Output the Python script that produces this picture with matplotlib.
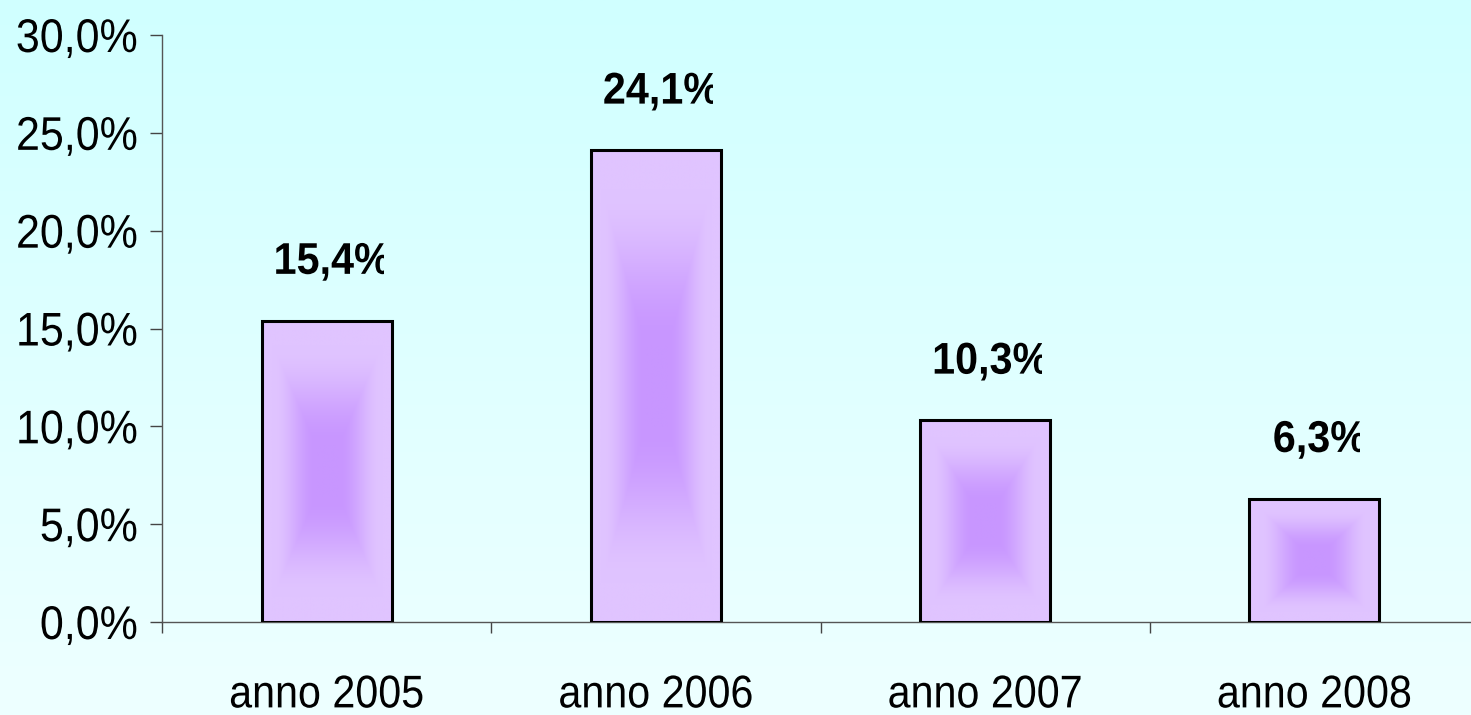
import numpy as np
import matplotlib
matplotlib.use("Agg")
import matplotlib.pyplot as plt
from matplotlib.ticker import FuncFormatter
from matplotlib.patheffects import AbstractPathEffect
from matplotlib.transforms import Affine2D, Bbox

# data
categories = ["anno 2005", "anno 2006", "anno 2007", "anno 2008"]
values = [15.4, 24.1, 10.3, 6.3]
labels = ["15,4%", "24,1%", "10,3%", "6,3%"]
yticks = [0, 5, 10, 15, 20, 25, 30]

plt.rcParams['font.family'] = ['Liberation Sans', 'DejaVu Sans']


# squeeze text horizontally (the original uses a narrow Arial-like font)
class Condense(AbstractPathEffect):
    def __init__(self, sx, anchor='center', cut=0):
        super().__init__()
        self.sx = sx
        self.anchor = anchor
        self.cut = cut

    def draw_path(self, renderer, gc, tpath, affine, rgbFace=None):
        ext = tpath.get_extents()
        a = {'left': ext.x0, 'center': (ext.x0 + ext.x1) / 2, 'right': ext.x1}[self.anchor]
        tr = Affine2D().translate(-a, 0).scale(self.sx, 1).translate(a, 0) + affine
        if self.cut:
            b = tpath.get_extents(tr)
            gc0 = renderer.new_gc()
            gc0.copy_properties(gc)
            gc0.set_clip_rectangle(Bbox.from_extents(b.x0 - 5, b.y0 - 5, b.x1 - self.cut, b.y1 + 5))
            renderer.draw_path(gc0, tpath, tr, rgbFace)
            gc0.restore()
        else:
            renderer.draw_path(gc, tpath, tr, rgbFace)


fig = plt.figure(figsize=(14.71, 7.15), dpi=100)

# background gradient (cyan at top, lighter at bottom)
bg = fig.add_axes([0, 0, 1, 1], zorder=-1)
top = np.array([208, 255, 255]) / 255
bot = np.array([238, 255, 255]) / 255
g = np.linspace(0, 1, 256)[:, None]
grad = top * (1 - g[..., None]) + bot * g[..., None]
bg.imshow(np.repeat(grad, 2, axis=1), aspect='auto', extent=[0, 1, 0, 1])
bg.axis('off')

ax = fig.add_axes([162 / 1471, 93 / 715, 1317 / 1471, 587 / 715])
ax.set_facecolor('none')

x = np.arange(len(categories))
width = 0.395
bars = ax.bar(x, values, width=width, color='none', edgecolor='black',
              linewidth=2.2, zorder=3)

# rectangular gradient inside each bar
center_c = np.array([200, 150, 255]) / 255
edge_c = np.array([224, 196, 255]) / 255
for xi, v, b in zip(x, values, bars):
    n = 200
    u = np.abs(np.linspace(-1, 1, n))
    t = np.maximum(u[None, :], u[:, None])
    s = np.clip((t - 0.18) / 0.65, 0, 1)
    s = (s * s * (3 - 2 * s))[..., None]
    img = center_c * (1 - s) + edge_c * s
    im = ax.imshow(img, extent=[xi - width / 2, xi + width / 2, 0, v],
                   aspect='auto', zorder=2, interpolation='bilinear')
    im.set_clip_path(b)

for xi, v, lab in zip(x, values, labels):
    ax.annotate(lab, (xi, v), xytext=(4, 42), textcoords='offset points',
                ha='center', va='center', fontsize=32, fontweight='bold',
                path_effects=[Condense(0.93, 'center', cut=6)])

ax.set_xlim(-0.5, 3.5)
ax.set_ylim(0, 30)
ax.set_yticks(yticks)
ax.yaxis.set_major_formatter(FuncFormatter(lambda v, p: f"{v:.1f}%".replace('.', ',')))
ax.set_xticks(x)
ax.set_xticklabels(categories)
ax.set_xticks(np.arange(-0.5, 4, 1), minor=True)

ax.tick_params(axis='x', which='major', length=0, pad=37, labelsize=33)
ax.tick_params(axis='x', which='minor', length=8, width=1, color='#444444')
ax.tick_params(axis='y', length=8.6, width=1, color='#444444', pad=8.6, labelsize=34)

for lab in ax.get_xticklabels():
    lab.set_path_effects([Condense(0.9, 'center')])
for lab in ax.get_yticklabels():
    lab.set_path_effects([Condense(0.91, 'right')])

for sp in ['top', 'right']:
    ax.spines[sp].set_visible(False)
for sp in ['left', 'bottom']:
    ax.spines[sp].set_color('#555555')
    ax.spines[sp].set_linewidth(1)

fig.savefig("out.png", dpi=100)
